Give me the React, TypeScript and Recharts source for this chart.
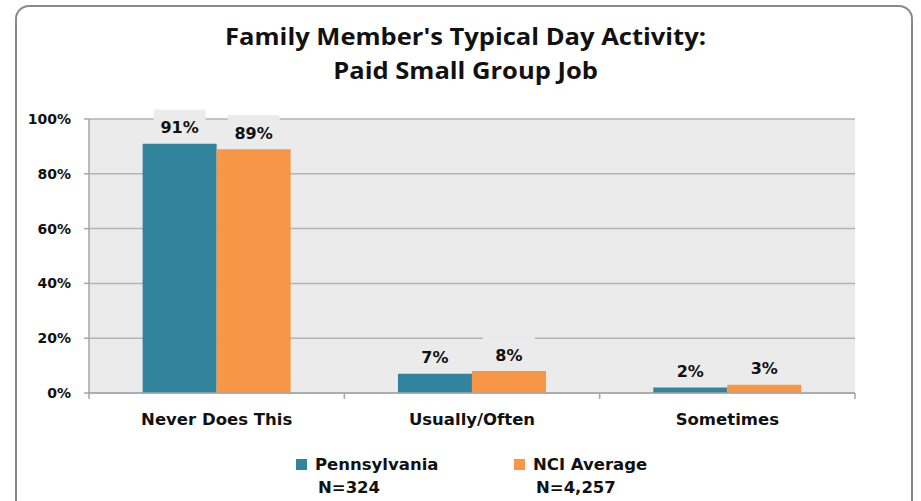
import { BarChart, Bar, XAxis, YAxis, CartesianGrid, LabelList } from "recharts";

const CATEGORIES = ["Never Does This", "Usually/Often", "Sometimes"];
const PENNSYLVANIA = [91, 7, 2];
const NCI_AVERAGE = [89, 8, 3];
const Y_TICKS = [0, 20, 40, 60, 80, 100];

const SERIES = [
  { key: "pa", name: "Pennsylvania", n: "N=324", color: "#31849B" },
  { key: "nci", name: "NCI Average", n: "N=4,257", color: "#F79646" },
];

const DATA = CATEGORIES.map((category, i) => ({
  category,
  pa: PENNSYLVANIA[i],
  nci: NCI_AVERAGE[i],
}));

const FONT = "'DejaVu Sans', Verdana, sans-serif";
const HALF_BAND = 766 / 3 / 2;

function ValueLabel({ x, y, width, value }: any) {
  const cx = x + width / 2;
  const ty = y - 16;
  return (
    <g>
      <rect x={cx - 26} y={ty - 18} width={52} height={28} fill="#EBEBEB" />
      <text
        x={cx}
        y={ty}
        textAnchor="middle"
        dominantBaseline="central"
        fontFamily={FONT}
        fontWeight="bold"
        fontSize={16}
        fill="#111"
      >
        {value}%
      </text>
    </g>
  );
}

function CategoryTick({ x, y, payload, index }: any) {
  const last = index === CATEGORIES.length - 1;
  return (
    <g>
      <line x1={x - HALF_BAND} x2={x - HALF_BAND} y1={y - 8} y2={y - 2} stroke="#A6A6A6" strokeWidth={1.5} />
      {last && (
        <line x1={x + HALF_BAND} x2={x + HALF_BAND} y1={y - 8} y2={y - 2} stroke="#A6A6A6" strokeWidth={1.5} />
      )}
      <text
        x={x}
        y={y + 24}
        textAnchor="middle"
        fontFamily={FONT}
        fontWeight="bold"
        fontSize={16.5}
        fill="#111"
      >
        {payload.value}
      </text>
    </g>
  );
}

export default function App() {
  return (
    <div
      style={{
        position: "absolute",
        left: 0,
        top: 0,
        width: 921,
        height: 501,
        background: "#fff",
        overflow: "hidden",
      }}
    >
      {/* Frame */}
      <div
        style={{
          position: "absolute",
          left: 15,
          top: 5,
          width: 898,
          height: 510,
          border: "2px solid #8A8A8A",
          borderRadius: 14,
          boxSizing: "border-box",
        }}
      />

      {/* Title */}
      <div
        style={{
          position: "absolute",
          left: 0,
          top: 19,
          width: 931,
          textAlign: "center",
          fontFamily: "'Open Sans', Lato, sans-serif",
          fontWeight: 700,
          fontSize: 23,
          lineHeight: "34px",
          color: "#111",
          transform: "scaleX(1.11)",
          transformOrigin: "465px 0",
        }}
      >
        Family Member's Typical Day Activity:
        <br />
        Paid Small Group Job
      </div>

      <div style={{ position: "absolute", left: 0, top: 0 }}>
        <BarChart
          width={921}
          height={501}
          data={DATA}
          margin={{ top: 119, right: 66, left: 29, bottom: 78 }}
          barCategoryGap="21%"
          barGap={0}
        >
          <CartesianGrid fill="#EBEBEB" stroke="#B3B3B3" strokeWidth={1.5} vertical={false} />
          <XAxis
            dataKey="category"
            height={30}
            axisLine={{ stroke: "#A6A6A6", strokeWidth: 1.5 }}
            tickLine={false}
            tick={<CategoryTick />}
            interval={0}
          />
          <YAxis
            width={60}
            domain={[0, 100]}
            ticks={Y_TICKS}
            tickFormatter={(v) => `${v}%`}
            axisLine={{ stroke: "#A6A6A6", strokeWidth: 1.5 }}
            tickLine={{ stroke: "#A6A6A6", strokeWidth: 1.5 }}
            tickSize={5}
            tickMargin={13}
            tick={{ fontFamily: FONT, fontWeight: "bold", fontSize: 14, fill: "#111" }}
          />
          {SERIES.map((s) => (
            <Bar key={s.key} dataKey={s.key} fill={s.color} isAnimationActive={false}>
              <LabelList dataKey={s.key} content={<ValueLabel />} />
            </Bar>
          ))}
        </BarChart>
      </div>

      {/* Legend */}
      {SERIES.map((s, i) => (
        <div
          key={s.key}
          style={{
            position: "absolute",
            left: i === 0 ? 296 : 514,
            top: 453,
            fontFamily: FONT,
            fontWeight: "bold",
            fontSize: 16.5,
            lineHeight: "23px",
            color: "#111",
          }}
        >
          <div style={{ display: "flex", alignItems: "center" }}>
            <span
              style={{
                display: "inline-block",
                width: 11,
                height: 11,
                background: s.color,
                marginRight: 8,
              }}
            />
            {s.name}
          </div>
          <div style={{ paddingLeft: 22 }}>{s.n}</div>
        </div>
      ))}
    </div>
  );
}
